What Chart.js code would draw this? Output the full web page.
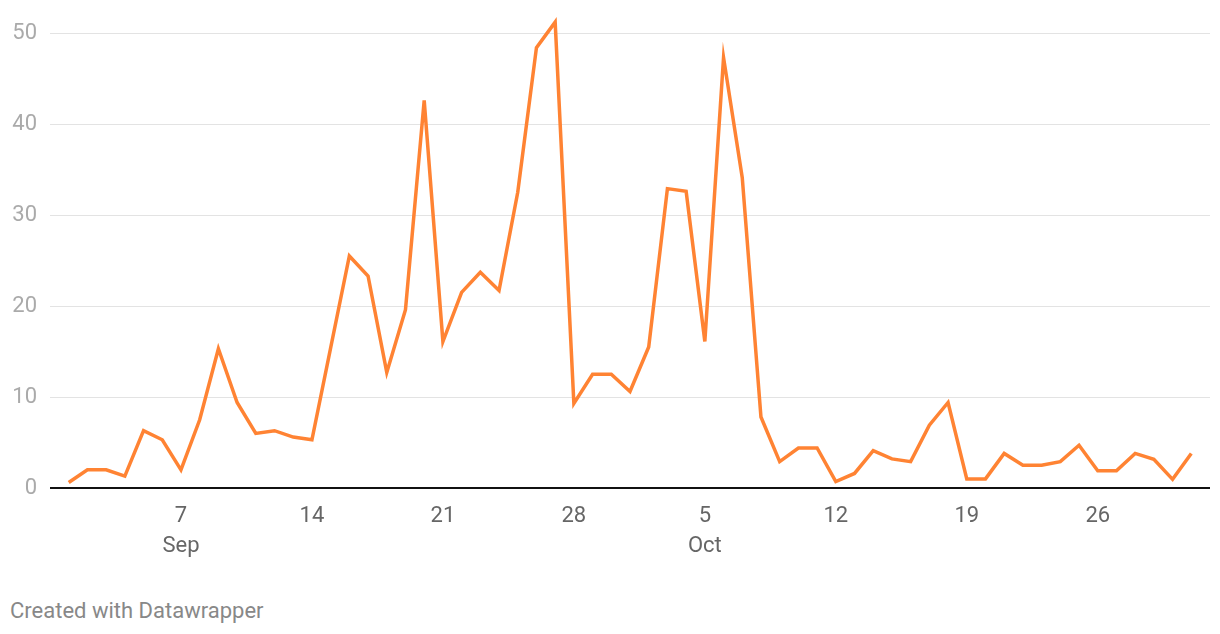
<!DOCTYPE html>
<html>
<head>
<meta charset="utf-8">
<script src="https://cdn.jsdelivr.net/npm/chart.js@4.4.0/dist/chart.umd.min.js"></script>
<style>
  html, body { margin: 0; padding: 0; background: #fff; }
  #wrap { position: relative; width: 1220px; height: 634px; overflow: hidden; }
  #box { position: absolute; left: 0; top: 0; width: 1220px; height: 580px; }
  #footer { position: absolute; left: 10px; top: 598px; font-family: Roboto, sans-serif; font-size: 22px; color: #888; }
</style>
</head>
<body>
<div id="wrap">
  <div id="box"><canvas id="c"></canvas></div>
  <div id="footer">Created with Datawrapper</div>
</div>
<script>
// Day index 0 = Sep 1 ... 60 = Oct 31
const dayLabels = ["Sep 1","Sep 2","Sep 3","Sep 4","Sep 5","Sep 6","Sep 7","Sep 8","Sep 9","Sep 10",
  "Sep 11","Sep 12","Sep 13","Sep 14","Sep 15","Sep 16","Sep 17","Sep 18","Sep 19","Sep 20",
  "Sep 21","Sep 22","Sep 23","Sep 24","Sep 25","Sep 26","Sep 27","Sep 28","Sep 29","Sep 30",
  "Oct 1","Oct 2","Oct 3","Oct 4","Oct 5","Oct 6","Oct 7","Oct 8","Oct 9","Oct 10",
  "Oct 11","Oct 12","Oct 13","Oct 14","Oct 15","Oct 16","Oct 17","Oct 18","Oct 19","Oct 20",
  "Oct 21","Oct 22","Oct 23","Oct 24","Oct 25","Oct 26","Oct 27","Oct 28","Oct 29","Oct 30","Oct 31"];
const values = [0.6, 2.0, 2.0, 1.3, 6.3, 5.3, 2.0, 7.5, 15.3, 9.4,
  6.0, 6.3, 5.6, 5.3, 15.4, 25.5, 23.3, 12.7, 19.6, 42.6,
  16.1, 21.5, 23.7, 21.7, 32.5, 48.4, 51.2, 9.3, 12.5, 12.5,
  10.6, 15.5, 32.9, 32.6, 16.1, 47.3, 34.1, 7.8, 2.9, 4.4,
  4.4, 0.7, 1.6, 4.1, 3.2, 2.9, 6.9, 9.4, 1.0, 1.0,
  3.8, 2.5, 2.5, 2.9, 4.7, 1.9, 1.9, 3.8, 3.15, 0.95, 3.8];
const xTickPositions = [6, 13, 20, 27, 34, 41, 48, 55];
const xTickLabels = [["7","Sep"], "14", "21", "28", ["5","Oct"], "12", "19", "26"];
const yTickValues = [0, 10, 20, 30, 40, 50];

const points = values.map((v, i) => ({ x: i, y: v }));

const baseline = {
  id: 'baseline',
  afterDatasetsDraw(chart) {
    const { ctx, chartArea } = chart;
    const y = chart.scales.y.getPixelForValue(0);
    ctx.save();
    ctx.strokeStyle = '#111';
    ctx.lineWidth = 2;
    ctx.beginPath();
    ctx.moveTo(chartArea.left, y);
    ctx.lineTo(chartArea.right, y);
    ctx.stroke();
    ctx.restore();
  }
};

new Chart(document.getElementById('c'), {
  type: 'line',
  data: {
    datasets: [{
      data: points,
      borderColor: '#ff8333',
      borderWidth: 3.5,
      pointRadius: 0,
      tension: 0,
      fill: false,
      clip: false,
      borderJoinStyle: 'miter'
    }]
  },
  options: {
    responsive: true,
    maintainAspectRatio: false,
    animation: false,
    events: [],
    layout: { padding: { left: 10, right: 10, top: 0, bottom: 0 } },
    plugins: { legend: { display: false }, tooltip: { enabled: false } },
    scales: {
      x: {
        type: 'linear',
        min: -1,
        max: 61,
        afterBuildTicks(scale) { scale.ticks = xTickPositions.map(v => ({ value: v })); },
        afterFit(scale) { scale.height = 92; scale.paddingLeft = 0; scale.paddingRight = 0; },
        grid: { display: false, drawTicks: false },
        border: { display: false },
        ticks: {
          autoSkip: false,
          maxRotation: 0,
          padding: 14,
          color: '#666',
          font: { family: 'Roboto', size: 22, lineHeight: 1.36 },
          callback(value) {
            const i = xTickPositions.indexOf(value);
            return i >= 0 ? xTickLabels[i] : '';
          }
        }
      },
      y: {
        min: 0,
        max: 53.63,
        afterBuildTicks(scale) { scale.ticks = yTickValues.map(v => ({ value: v })); },
        afterFit(scale) { scale.width = 40; scale.paddingTop = 0; scale.paddingBottom = 0; },
        grid: { color: '#e3e3e3', lineWidth: 1, drawTicks: false },
        border: { display: false },
        ticks: {
          padding: 13,
          color: '#aaa',
          font: { family: 'Roboto', size: 22 },
          callback(v) { return String(v); }
        }
      }
    }
  },
  plugins: [baseline]
});
</script>
</body>
</html>
